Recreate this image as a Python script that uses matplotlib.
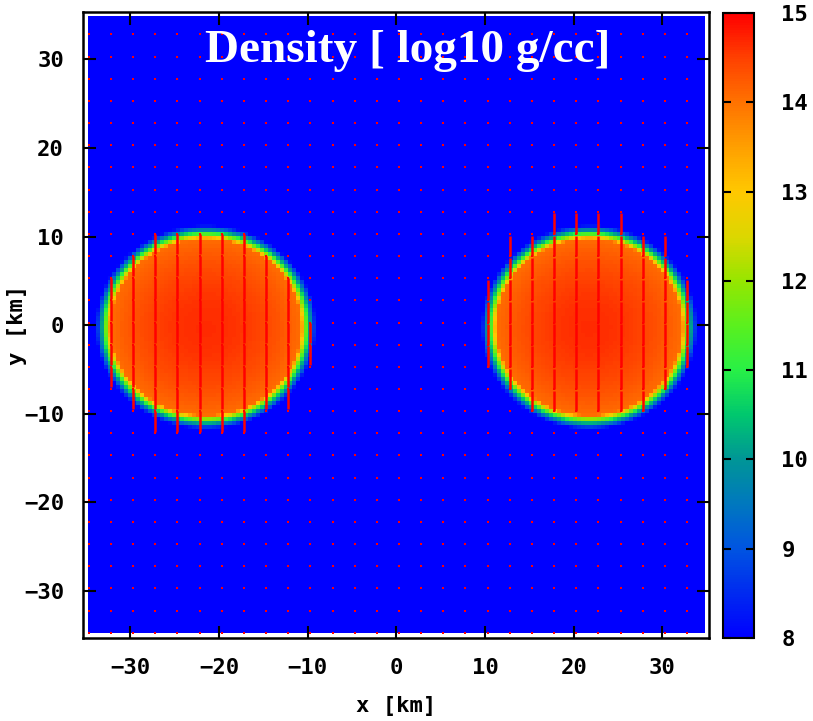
import numpy as np
import matplotlib
matplotlib.use("Agg")
import matplotlib.pyplot as plt
from matplotlib.colors import LinearSegmentedColormap

# palette anchors: log10 density -> rgb
pal_levels = [8.0, 9.0, 9.5, 10.0, 10.5, 11.0, 11.5, 12.0, 12.5, 13.0, 13.5, 14.0, 14.5, 15.0]
pal_colors = ["#0000ff", "#0055e1", "#0078be", "#009696", "#00c86e", "#28f046",
              "#5af01e", "#96e600", "#dcd700", "#ffc800", "#ffa000", "#ff7300",
              "#ff4100", "#ff0000"]

# stars: centre x, centre y, semi-axis x, semi-axis y, central and surface log density
star_cx = [-21.45, 21.7]
star_cy = [-0.3, -0.3]
star_ax = [10.75, 10.5]
star_ay = [9.9, 9.9]
star_rho_c = [14.65, 14.65]
star_rho_s = [14.05, 14.05]
rho_floor = 8.0
edge_width = 1.6

# velocity field sample points (grid spacing 2.5 km)
grid_pts = [0.3 + 2.5 * k for k in range(-14, 14)]

left_vx = [-32.2, -29.7, -27.2, -24.7, -22.2, -19.7, -17.2, -14.7, -12.2, -9.7]
left_ytop = [5.3, 7.8, 10.3, 10.3, 10.3, 10.3, 10.3, 7.8, 5.3, 0.3]
left_ybot = [-4.7, -7.2, -9.7, -9.7, -9.7, -9.7, -9.7, -7.2, -7.2, -2.2]
left_vy = -2.3

right_vx = [10.3, 12.8, 15.3, 17.8, 20.3, 22.8, 25.3, 27.8, 30.3, 32.8]
right_ytop = [2.8, 7.8, 7.8, 10.3, 10.3, 10.3, 10.3, 7.8, 7.8, 2.8]
right_ybot = [-4.7, -7.2, -9.7, -9.7, -9.7, -9.7, -9.7, -9.7, -7.2, -4.7]
right_vy = 2.3

cb_ticks = [8, 9, 10, 11, 12, 13, 14, 15]
xy_ticks = [-30, -20, -10, 0, 10, 20, 30]

# density grid
L = 34.75
n = 154
c = np.linspace(-L, L, n + 1)
c = 0.5 * (c[:-1] + c[1:])
X, Y = np.meshgrid(c, c)
dens = np.full_like(X, rho_floor)
for cx, cy, ax_, ay_, rc, rs in zip(star_cx, star_cy, star_ax, star_ay, star_rho_c, star_rho_s):
    r = np.sqrt(((X - cx) / ax_) ** 2 + ((Y - cy) / ay_) ** 2)
    inside = rc - (rc - rs) * r ** 2
    dist = np.clip((r - 1.0) * 0.5 * (ax_ + ay_), 0, None)
    outside = rs - (dist / edge_width) ** 0.8 * (rs - rho_floor)
    d = np.where(r <= 1.0, inside, outside)
    dens = np.maximum(dens, np.clip(d, rho_floor, 15.0))

cmap = LinearSegmentedColormap.from_list(
    "dens", [((v - 8.0) / 7.0, col) for v, col in zip(pal_levels, pal_colors)])

tick_font = dict(family="DejaVu Sans Mono", weight="bold", size=16)

fig = plt.figure(figsize=(8.13, 7.21), dpi=100)
ax = fig.add_axes([0.102, 0.115, 0.771, 0.868])
cax = fig.add_axes([0.889, 0.115, 0.038, 0.867])

im = ax.imshow(dens, origin="lower", extent=[-L, L, -L, L], cmap=cmap,
               vmin=8, vmax=15, interpolation="nearest")

# grid markers and velocity segments
gx, gy = np.meshgrid(grid_pts, grid_pts)
ax.scatter(gx.ravel(), gy.ravel(), s=3, marker="s", color="red", linewidths=0, zorder=3)
for xs, tops, bots, vy in [(left_vx, left_ytop, left_ybot, left_vy),
                           (right_vx, right_ytop, right_ybot, right_vy)]:
    for x0, yt, yb in zip(xs, tops, bots):
        ys = np.arange(yb, yt + 0.01, 2.5)
        ax.vlines(np.full_like(ys, x0), ys, ys + vy, colors="red", lw=1.8, zorder=4)

ax.set_xlim(-35.3, 35.3)
ax.set_ylim(-35.3, 35.3)
ax.set_xticks(xy_ticks)
ax.set_yticks(xy_ticks)
ax.tick_params(direction="in", length=9, width=1.5, top=True, right=True, pad=14)
for lab in ax.get_xticklabels() + ax.get_yticklabels():
    lab.set(**tick_font)
for s in ax.spines.values():
    s.set_linewidth(1.8)
ax.set_xlabel("x [km]", fontdict=tick_font)
ax.set_ylabel("y [km]", fontdict=tick_font)
ax.xaxis.set_label_coords(0.5, -0.092)
ax.yaxis.set_label_coords(-0.09, 0.5)

ax.text(0.518, 0.972, "Density [ log10 g/cc]", transform=ax.transAxes,
        ha="center", va="top", color="white", fontsize=34,
        family="Liberation Serif", weight="bold", zorder=5)

cb = fig.colorbar(im, cax=cax, ticks=cb_ticks)
cb.outline.set_linewidth(1.5)
cax.tick_params(direction="in", length=6, width=1.5, left=True, right=True, pad=20)
for lab in cax.get_yticklabels():
    lab.set(**tick_font)

fig.savefig("out.png", dpi=100)
